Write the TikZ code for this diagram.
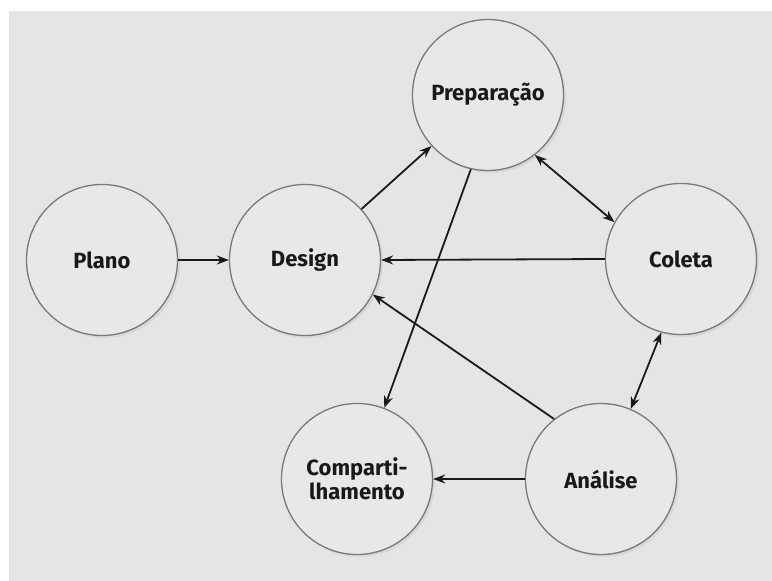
\documentclass[tikz,border=0pt]{standalone}
\usepackage{fontspec}
\setmainfont{Fira Sans}
\usetikzlibrary{arrows.meta,shadows}
\definecolor{bg}{HTML}{E5E5E5}
\definecolor{cfill}{HTML}{E8E8E8}
\definecolor{cline}{HTML}{7A7A7A}
\definecolor{aline}{HTML}{1A1A1A}
\tikzset{
  stage/.style={circle, draw=cline, line width=1.3pt, fill=cfill, minimum size=151pt, inner sep=0pt,
    font=\fontsize{22}{24}\selectfont\bfseries, text=black!90, align=center,
    drop shadow={opacity=0.12, shadow xshift=2.5pt, shadow yshift=-2.5pt}},
  conn/.style={draw=aline, line width=1.8pt, -{Stealth[length=12pt,width=9pt]}},
  biconn/.style={draw=aline, line width=1.8pt, {Stealth[length=12pt,width=9pt]}-{Stealth[length=12pt,width=9pt]}}
}
\begin{document}
\begin{tikzpicture}[x=1pt,y=-1pt]
\useasboundingbox (0,0) rectangle (772,581);
\fill[white] (0,0) rectangle (772,581);
\fill[bg] (9,11) rectangle (772,581);
\node[stage] (plano) at (102,260) {Plano};
\node[stage] (design) at (305,260) {Design};
\node[stage] (prep) at (488,95) {Preparação};
\node[stage] (coleta) at (681,259) {Coleta};
\node[stage] (comp) at (357,479) {Comparti-\\lhamento};
\node[stage] (analise) at (601,479) {Análise};
\draw[conn] (plano) -- (design);
\draw[conn] (design) -- (prep);
\draw[biconn] (prep.-52) -- (coleta.151);
\draw[conn] (coleta.west) -- (design.east);
\draw[conn] (prep.-103) -- (comp.69);
\draw[conn] (analise.128) -- (design.-27);
\draw[conn] (analise.west) -- (comp.east);
\draw[biconn] (analise.67) -- (coleta.-105);
\end{tikzpicture}
\end{document}
